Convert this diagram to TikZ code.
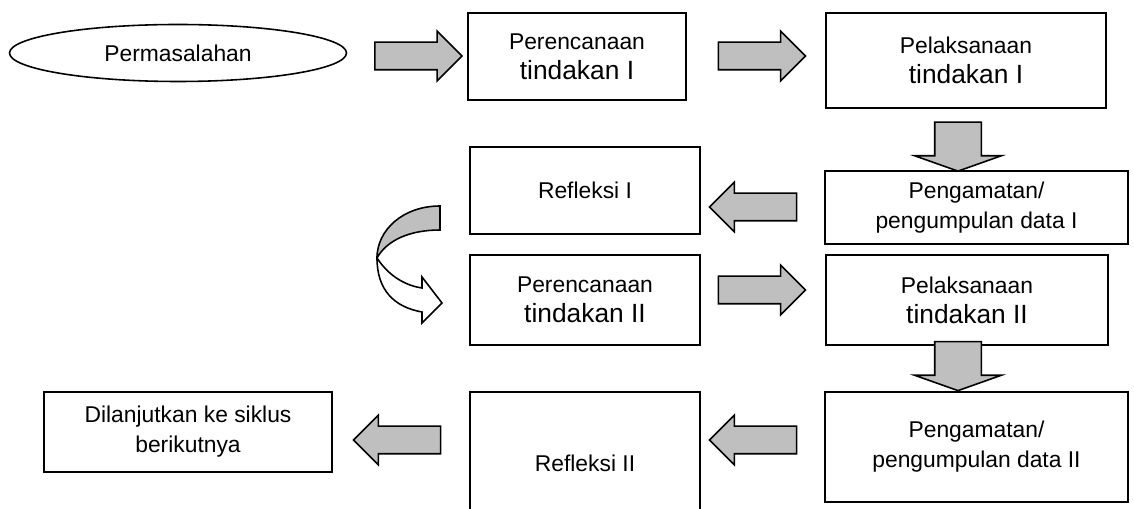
\documentclass[tikz,border=0pt]{standalone}
\usepackage{fontspec}
\setmainfont{Liberation Sans}
\usetikzlibrary{shapes.geometric, shapes.arrows, positioning}
\newdimen\pxu \pxu=0.02cm
\newcommand{\bigtxt}[1]{{\fontsize{15}{19}\selectfont #1}}

\begin{document}
\begin{tikzpicture}[
    x=0.02cm, y=-0.02cm,
    box/.style={draw, line width=0.9pt, align=center, font=\fontsize{13}{17}\selectfont},
    rarr/.style={single arrow, draw, fill=gray!50, line width=0.9pt, inner xsep=0pt, inner ysep=13\pxu,
        minimum height=87\pxu, single arrow head extend=11\pxu, single arrow tip angle=90},
    larr/.style={rarr, rotate=180},
    darr/.style={single arrow, draw, fill=gray!50, line width=0.9pt, inner xsep=0pt, inner ysep=22.5\pxu,
        minimum height=49\pxu, single arrow head extend=20\pxu, single arrow tip angle=141, rotate=-90}
]
\useasboundingbox (0,0) rectangle (1134,509);
\begin{scope}
\clip (0,0) rectangle (1134,509);

\node[box, ellipse, minimum width=337\pxu, minimum height=57\pxu] (prob) at (178,53) {Permasalahan};
\node[box, minimum width=218\pxu, minimum height=87\pxu] (plan1) at (577,56.5) {Perencanaan\\\bigtxt{tindakan I}};
\node[box, minimum width=280\pxu, minimum height=95\pxu] (act1) at (966,60.5) {Pelaksanaan\\\bigtxt{tindakan I}};
\node[box, minimum width=303\pxu, minimum height=73\pxu] (obs1) at (976.5,207.5) {Pengamatan/\\pengumpulan data I};
\node[box, minimum width=230\pxu, minimum height=87\pxu] (refl1) at (585,190.5) {Refleksi I};
\node[box, minimum width=230\pxu, minimum height=90\pxu] (plan2) at (585,300) {Perencanaan\\\bigtxt{tindakan II}};
\node[box, minimum width=282\pxu, minimum height=90\pxu] (act2) at (967,300) {Pelaksanaan\\\bigtxt{tindakan II}};
\node[box, minimum width=303\pxu, minimum height=110\pxu] (obs2) at (976.5,447) {Pengamatan/\\pengumpulan data II};
\node[box, minimum width=230\pxu, minimum height=143\pxu] (refl2) at (585,463.5) {Refleksi II};
\node[box, minimum width=288\pxu, minimum height=80\pxu] (next) at (188,432) {Dilanjutkan ke siklus\\berikutnya};

% block arrows
\node[rarr] (a1) at (411.5,56) {};
\node[rarr] (a2) at (755,56) {};
\node[darr] (a3) at (958,142.5) {};
\node[larr] (a4) at (760,207) {};
\node[rarr] (a5) at (755,290) {};
\node[darr] (a6) at (958,362) {};
\node[larr] (a7) at (760,440) {};
\node[larr] (a8) at (404,440) {};

% curved arrow from refl1 to plan2
\draw[line width=0.9pt, fill=gray!50] (440,206) .. controls (403,206) and (377,230) .. (377,258)
    .. controls (387,240) and (410,230) .. (440,230) -- cycle;
\draw[line width=0.9pt, fill=white] (377,258) .. controls (390,278) and (408,286) .. (422,288)
    -- (422,277) -- (442,303) -- (422,323) -- (422,312)
    .. controls (394,307) and (377,290) .. (377,258) -- cycle;
\end{scope}
\end{tikzpicture}
\end{document}
